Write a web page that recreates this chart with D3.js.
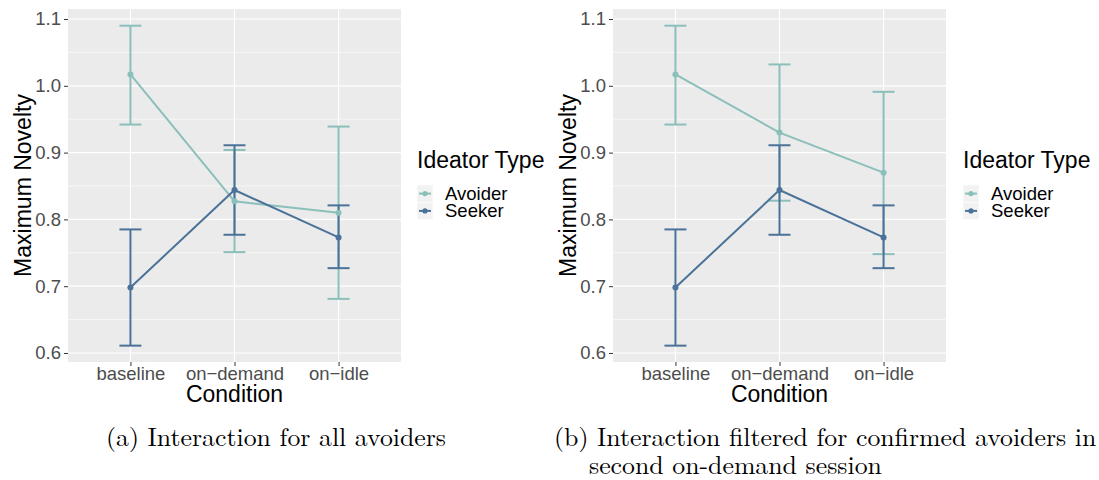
<!DOCTYPE html>
<html>
<head>
<meta charset="utf-8">
<script src="https://cdn.jsdelivr.net/npm/d3@7"></script>
<style>
  html, body { margin: 0; padding: 0; background: #ffffff; }
  svg { display: block; }
</style>
</head>
<body>
<svg id="fig" width="1099" height="480"></svg>
<script>
// Conditions along the x axis
const conditions = ["baseline", "on\u2212demand", "on\u2212idle"];
const yTicks = [0.6, 0.7, 0.8, 0.9, 1.0, 1.1];
const yMinor = [0.65, 0.75, 0.85, 0.95, 1.05];
const groups = ["Avoider", "Seeker"];

// Panel (a): all avoiders
const avoiderMeanA = [1.017, 0.827, 0.810];
const avoiderLowA  = [0.942, 0.751, 0.681];
const avoiderHighA = [1.090, 0.904, 0.939];

// Panel (b): confirmed avoiders only
const avoiderMeanB = [1.017, 0.930, 0.870];
const avoiderLowB  = [0.942, 0.828, 0.748];
const avoiderHighB = [1.090, 1.032, 0.991];

// Seekers (same in both panels)
const seekerMean = [0.698, 0.844, 0.773];
const seekerLow  = [0.611, 0.777, 0.727];
const seekerHigh = [0.785, 0.911, 0.821];

const colors = { Avoider: "#8bbfba", Seeker: "#4b7298" };
const sans = "'Liberation Sans', Arial, sans-serif";

const svg = d3.select("#fig");

function series(name, mean, low, high) {
  return { name, points: conditions.map((c, i) => ({ c, m: mean[i], lo: low[i], hi: high[i] })) };
}

function drawPanel(left, data, legendX) {
  const W = 333, top = 9, bottom = 362;
  const x = d3.scalePoint().domain(conditions).range([left, left + W]).padding(0.6);
  const y = d3.scaleLinear().domain([0.5865, 1.115]).range([bottom, top]);
  const g = svg.append("g");

  // panel background
  g.append("rect").attr("x", left).attr("y", top).attr("width", W).attr("height", bottom - top)
    .attr("fill", "#ebebeb");

  // grid
  g.selectAll(".minor").data(yMinor).join("line")
    .attr("x1", left).attr("x2", left + W)
    .attr("y1", d => y(d)).attr("y2", d => y(d))
    .attr("stroke", "#ffffff").attr("stroke-width", 0.6);
  g.selectAll(".major").data(yTicks).join("line")
    .attr("x1", left).attr("x2", left + W)
    .attr("y1", d => y(d)).attr("y2", d => y(d))
    .attr("stroke", "#ffffff").attr("stroke-width", 1.2);
  g.selectAll(".vmajor").data(conditions).join("line")
    .attr("x1", d => x(d)).attr("x2", d => x(d))
    .attr("y1", top).attr("y2", bottom)
    .attr("stroke", "#ffffff").attr("stroke-width", 1.2);

  // axes
  const yAxis = d3.axisLeft(y).tickValues(yTicks).tickFormat(d3.format(".1f")).tickSize(4).tickPadding(3);
  const ya = g.append("g").attr("transform", `translate(${left},0)`).call(yAxis);
  const xAxis = d3.axisBottom(x).tickSize(4).tickPadding(1);
  const xa = g.append("g").attr("transform", `translate(0,${bottom})`).call(xAxis);
  [ya, xa].forEach(a => {
    a.select(".domain").remove();
    a.selectAll(".tick line").attr("stroke", "#333333").attr("stroke-width", 1);
    a.selectAll(".tick text").attr("fill", "#4d4d4d")
      .style("font-family", sans).style("font-size", "18.5px");
  });

  // axis titles
  g.append("text").attr("x", left + W / 2).attr("y", 402).attr("text-anchor", "middle")
    .style("font-family", sans).style("font-size", "23px")
    .attr("fill", "#000").text("Condition");
  g.append("text")
    .attr("transform", `translate(${left - 37},${(top + bottom) / 2}) rotate(-90)`)
    .attr("text-anchor", "middle")
    .style("font-family", sans).style("font-size", "23px")
    .attr("fill", "#000").text("Maximum Novelty");

  const cap = 11;
  // error bars
  data.forEach(s => {
    const eg = g.append("g").attr("stroke", colors[s.name]).attr("stroke-width", 2).attr("fill", "none");
    s.points.forEach(p => {
      eg.append("line").attr("x1", x(p.c)).attr("x2", x(p.c)).attr("y1", y(p.lo)).attr("y2", y(p.hi));
      eg.append("line").attr("x1", x(p.c) - cap).attr("x2", x(p.c) + cap).attr("y1", y(p.lo)).attr("y2", y(p.lo));
      eg.append("line").attr("x1", x(p.c) - cap).attr("x2", x(p.c) + cap).attr("y1", y(p.hi)).attr("y2", y(p.hi));
    });
  });
  // lines
  const line = d3.line().x(p => x(p.c)).y(p => y(p.m));
  data.forEach(s => {
    g.append("path").datum(s.points).attr("d", line)
      .attr("fill", "none").attr("stroke", colors[s.name]).attr("stroke-width", 2);
  });
  // points
  data.forEach(s => {
    g.selectAll(null).data(s.points).join("circle")
      .attr("cx", p => x(p.c)).attr("cy", p => y(p.m)).attr("r", 3)
      .attr("fill", colors[s.name]);
  });

  // legend
  const lg = g.append("g").attr("transform", `translate(${legendX},0)`);
  lg.append("text").attr("x", 0).attr("y", 168)
    .style("font-family", sans).style("font-size", "23px")
    .attr("fill", "#000").text("Ideator Type");
  groups.forEach((name, i) => {
    const ky = 185 + i * 17.3;
    lg.append("rect").attr("x", 0).attr("y", ky).attr("width", 16).attr("height", 17.3)
      .attr("fill", "#f2f2f2").attr("stroke", "#ffffff").attr("stroke-width", 0.6);
    lg.append("line").attr("x1", 2).attr("x2", 14).attr("y1", ky + 8.6).attr("y2", ky + 8.6)
      .attr("stroke", colors[name]).attr("stroke-width", 2);
    lg.append("circle").attr("cx", 8).attr("cy", ky + 8.6).attr("r", 2.6).attr("fill", colors[name]);
    lg.append("text").attr("x", 28).attr("y", ky + 15)
      .style("font-family", sans).style("font-size", "18.5px")
      .attr("fill", "#000").text(name);
  });
}

drawPanel(68, [
  series("Avoider", avoiderMeanA, avoiderLowA, avoiderHighA),
  series("Seeker", seekerMean, seekerLow, seekerHigh)
], 417);

drawPanel(613, [
  series("Avoider", avoiderMeanB, avoiderLowB, avoiderHighB),
  series("Seeker", seekerMean, seekerLow, seekerHigh)
], 963);

// sub-figure captions
const capFont = "'Latin Modern Roman', 'CMU Serif', 'Liberation Serif', 'Times New Roman', serif";
svg.append("text").attr("x", 106).attr("y", 446)
  .style("font-family", capFont).style("font-size", "25.8px").attr("fill", "#000")
  .text("(a) Interaction for all avoiders");
svg.append("text").attr("x", 554).attr("y", 446)
  .style("font-family", capFont).style("font-size", "25.8px").attr("fill", "#000")
  .text("(b) Interaction filtered for confirmed avoiders in");
svg.append("text").attr("x", 589).attr("y", 474)
  .style("font-family", capFont).style("font-size", "25.8px").attr("fill", "#000")
  .text("second on-demand session");
</script>
</body>
</html>
